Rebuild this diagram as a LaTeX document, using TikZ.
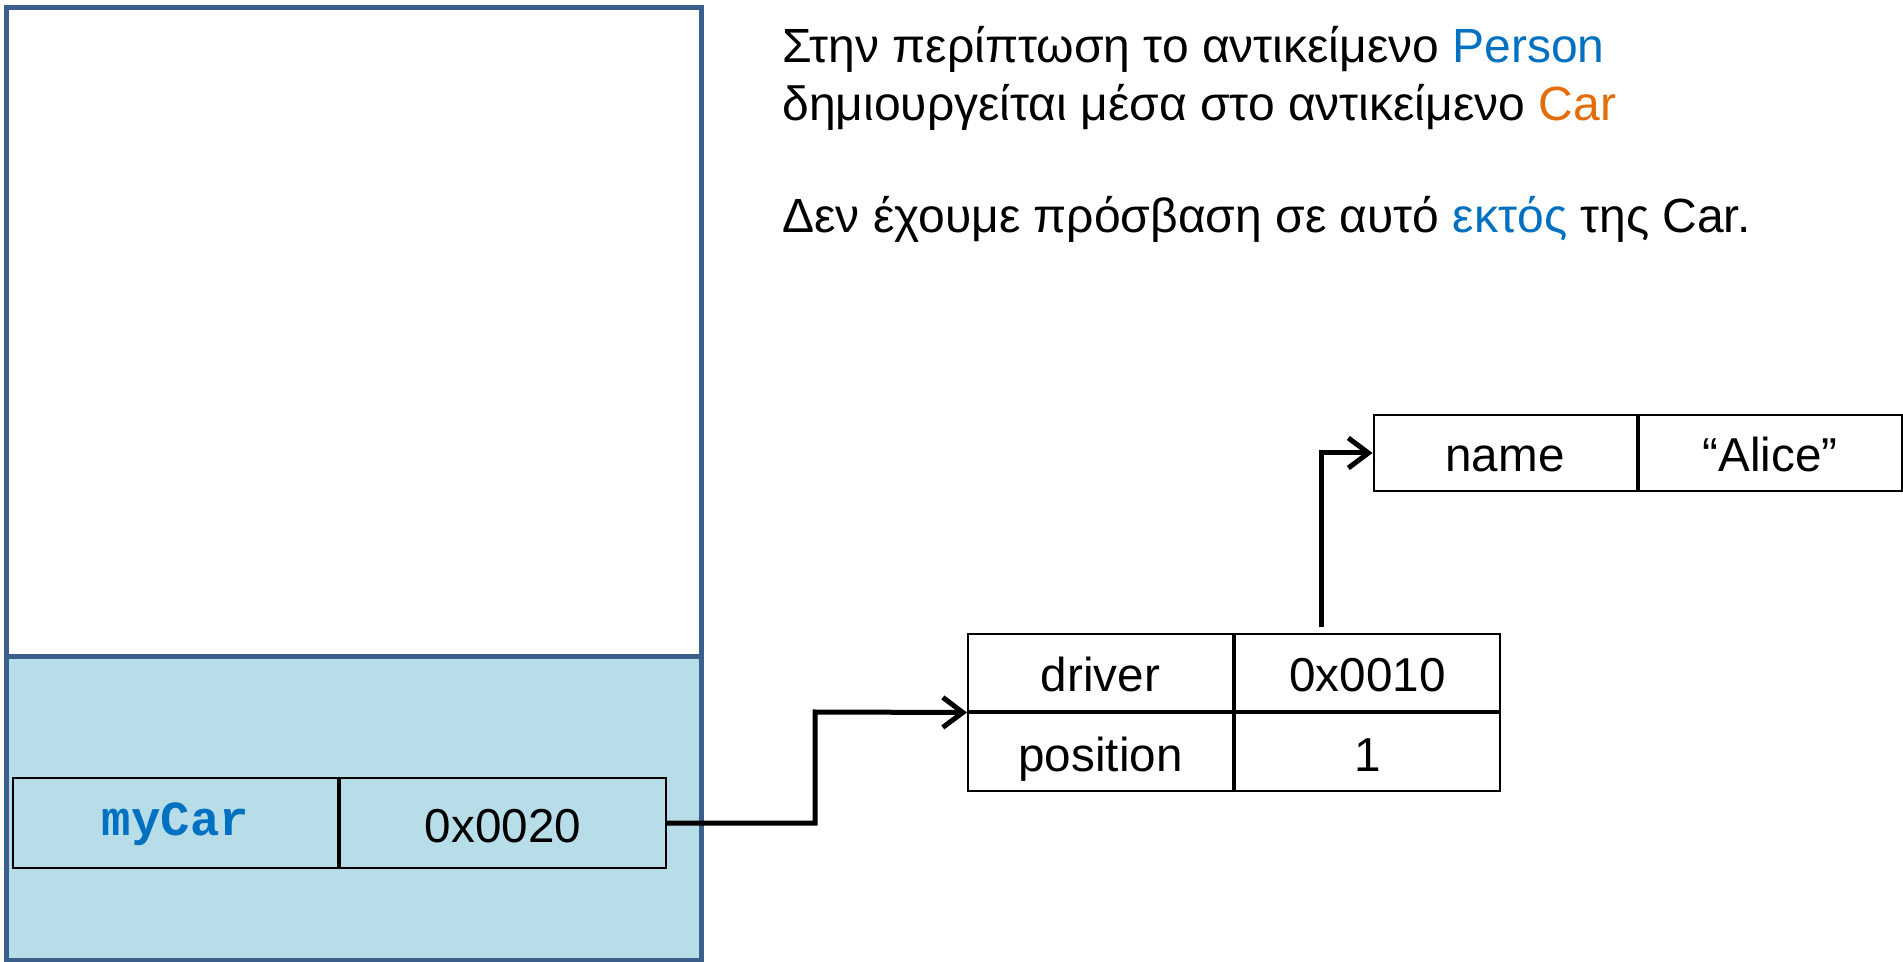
\documentclass[tikz,border=0pt]{standalone}
\usepackage{fontspec}
\setmainfont{Liberation Sans}
\newfontfamily\codefont{Liberation Mono}
\usetikzlibrary{positioning,arrows.meta}
\definecolor{frameblue}{HTML}{3A5F8B}
\definecolor{stackfill}{HTML}{B7DDE8}
\definecolor{txtblue}{HTML}{0070C0}
\definecolor{txtorange}{HTML}{E46C0A}

\begin{document}
\begin{tikzpicture}[x=0.5pt, y=-0.5pt,
    cell/.style={draw, line width=1pt, minimum width=132.5pt, minimum height=38.5pt,
      inner sep=0pt, text height=19pt, text depth=0pt, font=\fontsize{23.8}{28}\selectfont},
    ptr/.style={line width=2.5pt, -{Straight Barb[length=10pt,width=15pt]}},
    note/.style={anchor=base west, inner sep=0pt, font=\fontsize{24}{29}\selectfont}]
  \useasboundingbox (0,0) rectangle (1903,962);
  % stack frame
  \fill[stackfill] (6,657) rectangle (701,960);
  \draw[frameblue, line width=2.5pt] (6,8) rectangle (701,960) (6,657) -- (701,657);
  \node[cell, minimum width=162.5pt, minimum height=45pt, text=txtblue, text height=12pt,
    font={\codefont\bfseries\fontsize{24.5}{28}\selectfont}] (mycar) at (175.5,823) {myCar};
  \node[cell, minimum width=163pt, minimum height=45pt, right=0pt of mycar] (addr) {0x0020};
  % heap objects
  \node[cell] (driver) at (1100.5,673) {driver};
  \node[cell, right=0pt of driver] (drvval) {0x0010};
  \node[cell, below=0pt of driver] (position) {position};
  \node[cell, right=0pt of position] (posval) {1};
  \node[cell, minimum width=131.5pt, minimum height=38pt] (name) at (1505,453) {name};
  \node[cell, minimum width=131.5pt, minimum height=38pt, right=0pt of name] (alice) {“Alice”};
  % pointers
  \coordinate (bend) at (815,712);
  \coordinate (drvout) at (1321,627);
  \draw[ptr] (addr.east) -| (bend) -- (driver.south west);
  \draw[ptr] (drvout) |- (name.west);
  % notes
  \node[note] (line1) at (782,63) {Στην περίπτωση το αντικείμενο \textcolor{txtblue}{Person}};
  \node[note] (line2) at (782,121) {δημιουργείται μέσα στο αντικείμενο \textcolor{txtorange}{Car}};
  \node[note] (line3) at (782,233) {Δεν έχουμε πρόσβαση σε αυτό \textcolor{txtblue}{εκτός} της Car.};
\end{tikzpicture}
\end{document}
